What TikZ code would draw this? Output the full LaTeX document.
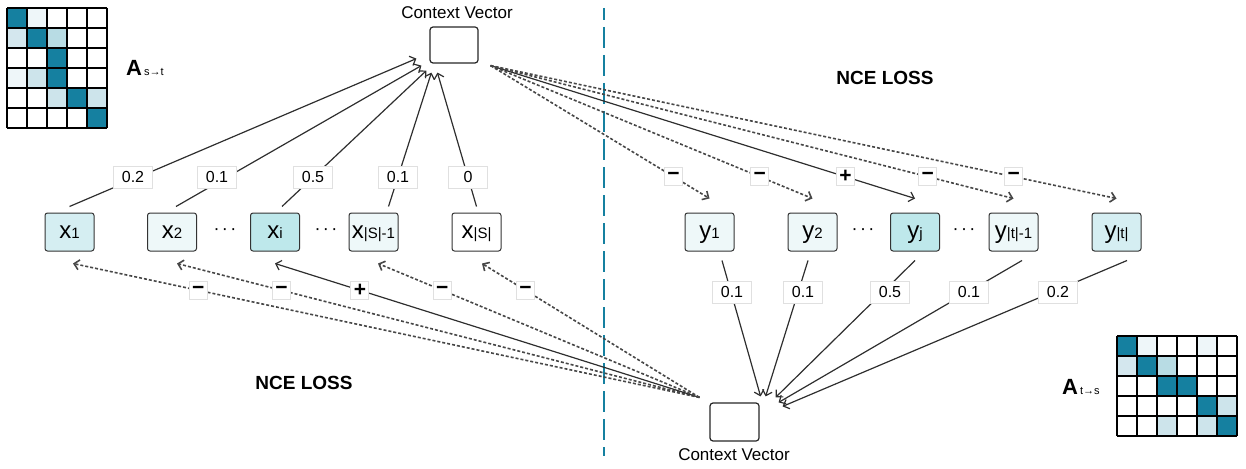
\documentclass[tikz,border=0pt]{standalone}
\usepackage{fontspec}
\setmainfont{Liberation Sans}
\usetikzlibrary{arrows.meta,calc}
\definecolor{mdark}{HTML}{1580A0}
\definecolor{mvl}{HTML}{EEF6F9}
\definecolor{mlt}{HTML}{D4E7EE}
\definecolor{mmed}{HTML}{B8DCE4}
\definecolor{mlt2}{HTML}{CDE4EB}
\definecolor{nA}{HTML}{D5EEF2}
\definecolor{nB}{HTML}{EEF8F9}
\definecolor{nC}{HTML}{BEE8EB}
\newcommand\sbs[1]{{\fontsize{15}{15}\selectfont #1}}
\newcommand\mdots{{\fontsize{18}{18}\selectfont ·\kern2.5pt·\kern2.5pt·}}
\begin{document}
\begin{tikzpicture}[x=1pt,y=-1pt,
  seq/.style={draw=black!80, rounded corners=2.5pt, line width=1pt, minimum width=49pt, minimum height=38pt, inner sep=0pt, text height=13pt, text depth=0pt, font=\fontsize{24}{24}\selectfont},
  cvbox/.style={draw=black!85, rounded corners=3pt, line width=1.2pt, minimum width=48pt, minimum height=36pt, inner sep=0pt},
  wlab/.style={fill=white, draw=black!12, line width=0.8pt, minimum width=39pt, minimum height=22pt, inner sep=0pt, font=\fontsize{16}{16}\selectfont},
  sgn/.style={solid, fill=white, draw=black!12, line width=0.8pt, minimum size=18pt, inner sep=0pt, font=\bfseries\fontsize{21}{21}\selectfont},
  sol/.style={draw=black!82, line width=1.2pt, -{Straight Barb[length=5pt,width=10pt]}},
  dsh/.style={sol, draw=black!72, line width=1.6pt, dash pattern=on 3pt off 2pt},
  nce/.style={font=\bfseries\fontsize{19}{19}\selectfont},
  cvtext/.style={font=\fontsize{17}{17}\selectfont},
  mline/.style={line width=1.2pt, draw=black}
]
\useasboundingbox (0,0) rectangle (1246,468);

% ---------- matrix A s->t ----------
\begin{scope}[shift={(7,8)}]
  \foreach \c/\r/\col in {0/0/mdark,1/0/mvl,0/1/mlt,1/1/mdark,2/1/mmed,2/2/mdark,0/3/mvl,1/3/mlt2,2/3/mdark,2/4/mlt2,3/4/mdark,4/4/mlt2,4/5/mdark}
    \fill[\col] (20*\c,20*\r) rectangle ++(20,20);
  \foreach \i in {0,...,5} \draw[mline] (20*\i,0) -- (20*\i,120);
  \foreach \j in {0,...,6} \draw[mline] (0,20*\j) -- (100,20*\j);
\end{scope}
\node[anchor=base west, inner sep=0pt] (Ast) at (126,76) {\bfseries\fontsize{22}{22}\selectfont A\kern2pt{\fontsize{11}{11}\mdseries s→t}};

% ---------- matrix A t->s ----------
\begin{scope}[shift={(1117,336)}]
  \foreach \c/\r/\col in {0/0/mdark,1/0/mvl,4/0/mvl,0/1/mlt,1/1/mdark,2/1/mmed,2/2/mdark,3/2/mdark,4/3/mdark,5/3/mlt2,2/4/mlt2,4/4/mlt2,5/4/mdark}
    \fill[\col] (20*\c,20*\r) rectangle ++(20,20);
  \foreach \i in {0,...,6} \draw[mline] (20*\i,0) -- (20*\i,100);
  \foreach \j in {0,...,5} \draw[mline] (0,20*\j) -- (120,20*\j);
\end{scope}
\node[anchor=base west, inner sep=0pt] (Ats) at (1062,394) {\bfseries\fontsize{22}{22}\selectfont A\kern2pt{\fontsize{11}{11}\mdseries t→s}};

% ---------- divider ----------
\draw[mdark, line width=2.8pt, dash pattern=on 21pt off 7pt, dash phase=9pt] (604,8) -- (604,456);

% ---------- context vectors ----------
\node[cvbox] (cvt) at (454,45) {};
\node[cvtext] (cvtl) at (457,13) {Context Vector};
\node[cvbox, minimum width=49pt, minimum height=38pt] (cvb) at (734.5,422) {};
\node[cvtext] (cvbl) at (734,455) {Context Vector};

% ---------- source nodes ----------
\node[seq, fill=nA] (x1) at (69.5,232) {x\sbs{1}};
\node[seq, fill=nB] (x2) at (172,232) {x\sbs{2}};
\node[seq, fill=nC] (xi) at (275,232) {x\sbs{i}};
\node[seq, fill=nB] (xs1) at (373.5,232) {x\sbs{|S|-1}};
\node[seq, fill=white] (xs) at (476.5,232) {x\sbs{|S|}};
\node (d1) at (225,232) {\mdots};
\node (d2) at (326,232) {\mdots};

% ---------- target nodes ----------
\node[seq, fill=nB] (y1) at (709.5,232) {y\sbs{1}};
\node[seq, fill=nB] (y2) at (812.5,232) {y\sbs{2}};
\node[seq, fill=nC] (yj) at (915,232) {y\sbs{j}};
\node[seq, fill=nB] (yt1) at (1013.5,232) {y\sbs{|t|-1}};
\node[seq, fill=nA] (yt) at (1116.5,232) {y\sbs{|t|}};
\node (d3) at (863,232) {\mdots};
\node (d4) at (964,232) {\mdots};

% ---------- x -> top context vector ----------
\draw[sol] ($(x1.north)+(0,-6)$) -- ($(cvt.south west)+(-13,-5)$);
\draw[sol] ($(x2.north)+(4,-6)$) -- ($(cvt.south west)+(-8,2)$);
\draw[sol] ($(xi.north)+(7,-6)$) -- ($(cvt.south west)+(-3,7)$);
\draw[sol] ($(xs1.north)+(15,-6)$) -- ($(cvt.south west)+(2,9)$);
\draw[sol] ($(xs.north)+(0,-6)$) -- ($(cvt.south west)+(8,9)$);
\node[wlab] (w1) at (133,177) {0.2};
\node[wlab] (w2) at (217,177) {0.1};
\node[wlab] (w3) at (313,177) {0.5};
\node[wlab] (w4) at (398,177) {0.1};
\node[wlab] (w5) at (468,177) {0};

% ---------- top context vector -> y (NCE) ----------
\coordinate (ts) at ($(cvt.south east)+(12,2)$);
\draw[dsh] (ts) -- node[sgn, pos=0.836] {−} ($(y1.north)+(0,-14)$);
\draw[dsh] (ts) -- node[sgn, pos=0.836] {−} ($(y2.north)+(0,-14)$);
\draw[sol] (ts) -- node[sgn, pos=0.836] {+} ($(yj.north)+(0,-14)$);
\draw[dsh] (ts) -- node[sgn, pos=0.836] {−} ($(yt1.north)+(0,-14)$);
\draw[dsh] (ts) -- node[sgn, pos=0.836] {−} ($(yt.north)+(0,-14)$);

% ---------- y -> bottom context vector ----------
\draw[sol] ($(y1.south)+(12.5,9)$) -- ($(cvb.north east)+(1,-6)$);
\draw[sol] ($(y2.south)+(-4.5,9)$) -- ($(cvb.north east)+(6,-6)$);
\draw[sol] ($(yj.south)+(0,9)$) -- ($(cvb.north east)+(16,-5)$);
\draw[sol] ($(yt1.south)+(8.5,9)$) -- ($(cvb.north east)+(19,0)$);
\draw[sol] ($(yt.south)+(10.5,9)$) -- ($(cvb.north east)+(23,4)$);
\node[wlab] (v1) at (732,292) {0.1};
\node[wlab] (v2) at (803,292) {0.1};
\node[wlab] (v3) at (890,292) {0.5};
\node[wlab] (v4) at (969,292) {0.1};
\node[wlab] (v5) at (1058,292) {0.2};

% ---------- bottom context vector -> x (NCE) ----------
\coordinate (bs) at ($(cvb.north west)+(-10,-5)$);
\draw[dsh] (bs) -- node[sgn, pos=0.8] {−} ($(x1.south)+(3.5,12)$);
\draw[dsh] (bs) -- node[sgn, pos=0.8] {−} ($(x2.south)+(5,12)$);
\draw[sol] (bs) -- node[sgn, pos=0.8] {+} ($(xi.south)+(0,12)$);
\draw[dsh] (bs) -- node[sgn, pos=0.8] {−} ($(xs1.south)+(4.5,12)$);
\draw[dsh] (bs) -- node[sgn, pos=0.8] {−} ($(xs.south)+(5.5,12)$);

% ---------- titles ----------
\node[nce] (nce1) at (885,78) {NCE LOSS};
\node[nce] (nce2) at (304,383) {NCE LOSS};
\end{tikzpicture}
\end{document}
